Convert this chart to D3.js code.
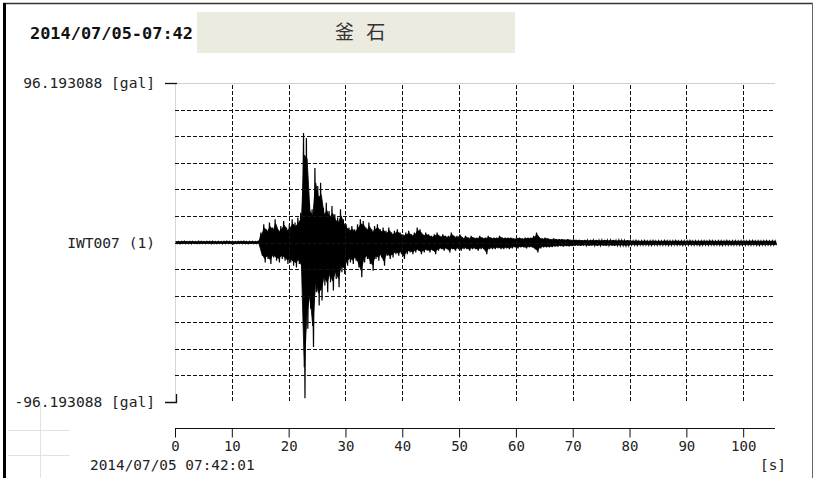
<!DOCTYPE html>
<html>
<head>
<meta charset="utf-8">
<script src="https://cdn.jsdelivr.net/npm/d3@7"></script>
<style>
  html, body { margin: 0; padding: 0; background: #fff; }
  svg { display: block; }
</style>
</head>
<body>
<svg id="chart" width="817" height="478"></svg>
<script>
// Record header and labels
const recordTime = "2014/07/05-07:42";
const stationName = "釜 石";
const channelLabel = "IWT007 (1)";
const startStamp = "2014/07/05 07:42:01";
const ampLimit = 96.193088;
const ampUnit = "[gal]";
const timeUnit = "[s]";
const recordLength = 105.6;          // seconds shown on the time axis
const timeTicks = [0, 10, 20, 30, 40, 50, 60, 70, 80, 90, 100];
const timeGrid = [10, 20, 30, 40, 50, 60, 70, 80, 90, 100];
const ampGridSteps = 6;              // grid rows on each side of zero

// Acceleration trace, stored as max / min per 0.5 s window (gal)
const sampleStep = 0.5;
const peakHigh = [
  0.7,0.6,0.7,0.8,0.6,0.7,0.7,0.6,0.8,0.7,
  0.6,0.7,0.7,0.8,0.6,0.7,0.6,0.7,0.8,0.7,
  0.7,0.6,0.7,0.7,0.8,0.6,0.7,0.7,0.6,0.8,
  6,11,8,12,9,14,8,10,13,9,
  11,14,12,15,18,66,63,24,20,45,
  34,36,21,24,19,22,17,15,20,14,
  11,9,10,8,11,14,13,9,12,8,
  10,11,8,9,7,9,6,7,8,6,
  5,6,7,5,6,9,8,5,6,5,
  4,5,6,4,5,4,4,6,4,4,
  5,3,4,3,4,3,3,4,3,3,
  4,3,3,3,4,3,3,3,3,2.5,
  3,3,2.5,3,3,3,4,6,3,2.5,
  3,2.5,2,2.5,2,2,2,1.8,2,1.6,
  1.8,1.5,1.6,1.4,1.5,1.3,1.6,1.4,1.5,1.3,
  1.4,1.5,1.3,1.4,1.5,1.2,1.4,1.3,1.2,1.4,
  1.1,1.0,1.2,0.9,1.0,1.1,0.9,1.0,1.1,0.9,
  1.0,0.9,1.1,1.0,0.9,1.0,1.1,0.9,1.0,0.9,
  1.0,1.1,0.9,1.0,0.9,1.0,1.0,0.9,1.1,1.0,
  0.9,1.0,1.0,0.9,1.1,0.9,1.0,1.0,0.9,1.0,
  1.0,0.9,1.0,1.1,0.9,1.0,0.9,1.0,1.0,0.9,1.0,0.9
];
const peakLow = [
  -0.7,-0.8,-0.6,-0.7,-0.7,-0.8,-0.6,-0.7,-0.7,-0.6,
  -0.7,-0.6,-0.8,-0.7,-0.7,-0.6,-0.8,-0.7,-0.6,-0.7,
  -0.8,-0.7,-0.6,-0.7,-0.7,-0.8,-0.6,-0.7,-0.7,-0.6,
  -8,-12,-10,-13,-9,-11,-12,-10,-11,-13,
  -12,-14,-15,-13,-17,-94,-52,-40,-63,-30,
  -38,-35,-26,-30,-24,-29,-22,-27,-18,-19,
  -14,-12,-13,-11,-15,-21,-12,-10,-13,-17,
  -10,-11,-9,-14,-8,-10,-9,-7,-8,-7,
  -10,-7,-6,-7,-6,-5,-7,-6,-5,-6,
  -5,-7,-5,-4,-5,-4,-6,-4,-5,-4,
  -5,-4,-4,-5,-4,-4,-5,-4,-4,-7,
  -4,-4,-4,-3.5,-4,-4,-3.5,-4,-3.5,-3,
  -3.5,-3,-3,-3.5,-3,-3,-4,-6,-3.5,-3,
  -3,-3,-2.8,-2.5,-2.5,-2.2,-2.5,-2.2,-2.4,-2.2,
  -2,-1.8,-2,-1.9,-1.8,-2,-1.9,-1.8,-2,-1.8,
  -1.9,-2,-1.8,-1.9,-2,-1.8,-1.9,-1.8,-2,-1.9,
  -1.6,-1.5,-1.7,-1.5,-1.6,-1.5,-1.6,-1.7,-1.5,-1.6,
  -1.5,-1.6,-1.5,-1.7,-1.6,-1.5,-1.6,-1.5,-1.7,-1.6,
  -1.6,-1.5,-1.6,-1.5,-1.7,-1.6,-1.5,-1.6,-1.5,-1.6,
  -1.5,-1.6,-1.7,-1.5,-1.6,-1.5,-1.6,-1.5,-1.6,-1.7,
  -1.6,-1.5,-1.6,-1.5,-1.6,-1.7,-1.5,-1.6,-1.5,-1.6,-1.5,-1.6
];

const svg = d3.select("#chart");
const mono = "'DejaVu Sans Mono', 'Liberation Mono', monospace";

const plot = { left: 175, right: 775, top: 83, bottom: 402 };
const x = d3.scaleLinear().domain([0, recordLength]).range([plot.left, plot.right]);
const y = d3.scaleLinear().domain([-ampLimit, ampLimit]).range([plot.bottom, plot.top]);

// Outer frame
svg.append("line").attr("x1", 3).attr("x2", 813).attr("y1", 3.5).attr("y2", 3.5)
  .attr("stroke", "#333").attr("stroke-width", 1.5);
svg.append("line").attr("x1", 4.5).attr("x2", 4.5).attr("y1", 3).attr("y2", 478)
  .attr("stroke", "#000").attr("stroke-width", 3);
svg.append("line").attr("x1", 812.5).attr("x2", 812.5).attr("y1", 3).attr("y2", 478)
  .attr("stroke", "#666").attr("stroke-width", 1);

// Header
svg.append("text").attr("x", 30).attr("y", 39)
  .attr("font-family", mono).attr("font-weight", "bold").attr("font-size", 15.5)
  .attr("textLength", 163).attr("lengthAdjust", "spacingAndGlyphs")
  .attr("fill", "#111").text(recordTime);
svg.append("rect").attr("x", 197).attr("y", 12).attr("width", 318).attr("height", 41)
  .attr("fill", "#ebebdf");
svg.append("text").attr("x", 335).attr("y", 39)
  .attr("font-family", "'Noto Sans CJK JP', 'Noto Sans CJK SC', sans-serif")
  .attr("font-size", 19).attr("letter-spacing", 4).attr("fill", "#333")
  .attr("xml:space", "preserve").text(stationName);

// Plot border (top and left, light)
svg.append("line").attr("x1", plot.left).attr("x2", plot.right)
  .attr("y1", plot.top + 0.5).attr("y2", plot.top + 0.5).attr("stroke", "#cfcfcf");
svg.append("line").attr("x1", plot.left + 0.5).attr("x2", plot.left + 0.5)
  .attr("y1", plot.top).attr("y2", plot.bottom).attr("stroke", "#d6d6d6");

// Trace: a solid inner band, with the max/min zigzag reaching out to each window's peaks
const windows = peakHigh.map((hi, i) => ({ t: i * sampleStep, hi: hi, lo: peakLow[i] }));
const coreShare = 0.8;
const band = d3.area()
  .x(d => x(d.t + sampleStep / 2))
  .y0(d => y(d.lo * coreShare)).y1(d => y(d.hi * coreShare));
svg.append("path").datum(windows).attr("d", band)
  .attr("fill", "#000").attr("stroke", "#000").attr("stroke-width", 0.8);

const tracePts = [];
windows.forEach(d => {
  tracePts.push([d.t + sampleStep * 0.25, d.hi]);
  tracePts.push([d.t + sampleStep * 0.75, d.lo]);
});
const line = d3.line().x(d => x(d[0])).y(d => y(d[1]));
svg.append("path").datum(tracePts).attr("d", line)
  .attr("fill", "none").attr("stroke", "#000").attr("stroke-width", 1.2);

// Dashed grid drawn over the trace (white gaps show through the trace)
const ampGrid = d3.range(-ampGridSteps + 1, ampGridSteps).map(k => ampLimit * k / ampGridSteps);
const grid = svg.append("g").attr("shape-rendering", "crispEdges");
function gridLines(color, dash, width) {
  grid.selectAll(null).data(ampGrid).enter().append("line")
    .attr("x1", plot.left).attr("x2", plot.right)
    .attr("y1", d => Math.round(y(d)) + 0.5).attr("y2", d => Math.round(y(d)) + 0.5)
    .attr("stroke", color).attr("stroke-width", width).attr("stroke-dasharray", dash);
  grid.selectAll(null).data(timeGrid).enter().append("line")
    .attr("x1", d => Math.round(x(d)) + 0.5).attr("x2", d => Math.round(x(d)) + 0.5)
    .attr("y1", plot.top + 2).attr("y2", plot.bottom - 1)
    .attr("stroke", color).attr("stroke-width", width).attr("stroke-dasharray", dash);
}
gridLines("#fff", "1,5", 1);
gridLines("#111", "4,2", 1);

// Amplitude scale marks and labels
svg.append("line").attr("x1", 165).attr("x2", 177).attr("y1", y(ampLimit) + 0.5).attr("y2", y(ampLimit) + 0.5)
  .attr("stroke", "#111").attr("stroke-width", 1.3);
svg.append("path")
  .attr("d", `M165,${y(-ampLimit) + 0.5}H176.5V${y(-ampLimit) - 8}`)
  .attr("fill", "none").attr("stroke", "#111").attr("stroke-width", 1.3);

const yLabels = [
  { v: ampLimit, text: `${ampLimit.toFixed(6)} ${ampUnit}` },
  { v: 0, text: channelLabel },
  { v: -ampLimit, text: `${(-ampLimit).toFixed(6)} ${ampUnit}` }
];
svg.selectAll(null).data(yLabels).enter().append("text")
  .attr("x", 155).attr("y", d => y(d.v)).attr("dy", "0.36em")
  .attr("text-anchor", "end").attr("font-family", mono).attr("font-size", 14.6)
  .attr("fill", "#222").text(d => d.text);

// Time axis
const xAxis = d3.axisBottom(x).tickValues(timeTicks).tickSize(9).tickSizeOuter(0).tickPadding(4)
  .tickFormat(d3.format("d"));
const gx = svg.append("g").attr("transform", "translate(0,428.5)").call(xAxis);
gx.select(".domain").attr("stroke", "#111").attr("d", `M${plot.left},0H${plot.right}`);
gx.selectAll(".tick line").attr("stroke", "#111");
gx.selectAll(".tick text").attr("font-family", mono).attr("font-size", 14).attr("fill", "#222");

svg.append("text").attr("x", 90).attr("y", 470)
  .attr("font-family", mono).attr("font-size", 14.4).attr("fill", "#222").text(startStamp);
svg.append("text").attr("x", 760).attr("y", 470)
  .attr("font-family", mono).attr("font-size", 14.4).attr("fill", "#222").text(timeUnit);

// Faint guide marks at the lower left
const faint = svg.append("g").attr("stroke", "#e2e2e2").attr("shape-rendering", "crispEdges");
faint.append("line").attr("x1", 8).attr("x2", 70).attr("y1", 430.5).attr("y2", 430.5);
faint.append("line").attr("x1", 8).attr("x2", 70).attr("y1", 455.5).attr("y2", 455.5);
faint.append("line").attr("x1", 40.5).attr("x2", 40.5).attr("y1", 405).attr("y2", 478);
</script>
</body>
</html>
